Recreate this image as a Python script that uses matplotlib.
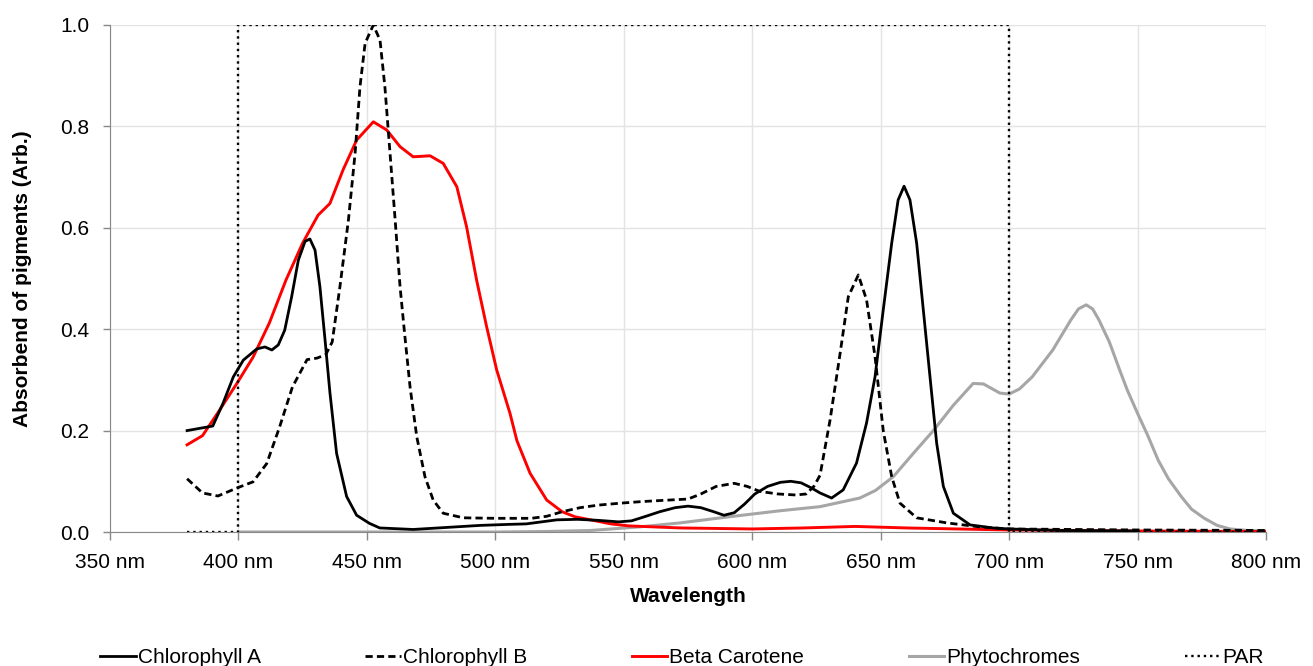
import matplotlib
matplotlib.use("Agg")
import matplotlib.pyplot as plt
import numpy as np

plt.rcParams['font.family'] = ['Liberation Sans Narrow', 'Liberation Sans', 'DejaVu Sans']

# values
chla_nm = [380, 390, 394, 398, 401.9, 407.1, 410.3, 413, 415.5, 418, 420.7, 423.3, 425.9, 427.8,
           429.8, 431.7, 433.7, 435.6, 438.2, 442.1, 446, 451, 455, 468, 481, 494, 505, 512,
           518, 524, 532, 540, 548, 553, 558, 564, 570, 575, 580, 585, 589, 593, 597, 601,
           606, 611, 615, 619, 623, 626.4, 630.9, 635.4, 640.6, 644.5, 647.8, 651, 654.3,
           656.8, 659.1, 661.4, 664, 666.6, 669.2, 671.8, 674.4, 678.3, 684.8, 693.8, 700,
           720, 750]
chla_abs = [0.2, 0.209, 0.254, 0.306, 0.339, 0.361, 0.365, 0.359, 0.369, 0.398, 0.464, 0.536,
            0.573, 0.578, 0.556, 0.484, 0.379, 0.275, 0.155, 0.07, 0.033, 0.017, 0.008, 0.005,
            0.009, 0.013, 0.015, 0.016, 0.02, 0.024, 0.025, 0.023, 0.02, 0.022, 0.03, 0.04,
            0.048, 0.051, 0.048, 0.04, 0.033, 0.038, 0.055, 0.075, 0.09, 0.098, 0.1, 0.097,
            0.087, 0.077, 0.067, 0.083, 0.136, 0.215, 0.306, 0.438, 0.57, 0.655, 0.682, 0.655,
            0.57, 0.438, 0.306, 0.175, 0.09, 0.037, 0.014, 0.008, 0.006, 0.003, 0.002]

chlb_nm = [380, 386, 392, 399.5, 405.7, 411, 416, 421, 426.7, 430.6, 434, 436.5, 439.5, 442.8,
           445.4, 447.3, 449.3, 452.5, 455.1, 457, 459, 461, 462.9, 464.8, 466.8, 469.4, 472.6,
           475.8, 479.7, 487.5, 500, 514, 520, 526, 533, 540, 549, 557, 564, 575, 580, 586,
           593, 598, 603, 610, 617, 621, 624, 626.4, 630.3, 634.2, 637.4, 641.3, 644.5, 647.8,
           651, 654.3, 657.5, 664, 675.7, 688.6, 700, 750, 800]
chlb_abs = [0.105, 0.077, 0.071, 0.087, 0.099, 0.135, 0.207, 0.286, 0.34, 0.343, 0.35, 0.375,
            0.484, 0.615, 0.747, 0.878, 0.964, 1.0, 0.97, 0.878, 0.747, 0.615, 0.484, 0.385,
            0.286, 0.188, 0.109, 0.063, 0.037, 0.028, 0.027, 0.027, 0.031, 0.04, 0.048, 0.053,
            0.057, 0.06, 0.062, 0.065, 0.075, 0.09, 0.096, 0.09, 0.08, 0.075, 0.073, 0.075,
            0.09, 0.112, 0.221, 0.352, 0.464, 0.507, 0.458, 0.346, 0.2, 0.109, 0.057, 0.028,
            0.018, 0.01, 0.006, 0.004, 0.003]

beta_nm = [380, 386, 392.6, 399.5, 405.7, 412, 418.5, 425, 431, 435.6, 440.7, 446, 452.5, 457.7,
           462.9, 468, 474.6, 479.7, 485, 488.8, 492.7, 496.6, 500.5, 505.7, 508.4, 513.5, 520,
           526, 531, 537, 545, 552, 572, 600, 620, 640, 660, 680, 700, 750, 800]
beta_abs = [0.172, 0.19, 0.24, 0.294, 0.345, 0.412, 0.497, 0.57, 0.625, 0.648, 0.714, 0.773,
            0.809, 0.793, 0.76, 0.74, 0.742, 0.727, 0.681, 0.602, 0.497, 0.405, 0.32, 0.234,
            0.18, 0.116, 0.063, 0.04, 0.03, 0.024, 0.016, 0.012, 0.008, 0.006, 0.008, 0.011,
            0.008, 0.006, 0.004, 0.002, 0.001]

phyto_nm = [400, 450, 500, 520, 537, 556, 572, 591, 611, 626.4, 641.9, 648, 654.9, 662.7,
            670.5, 678.3, 686, 690, 696.4, 700, 704, 709, 717, 724, 727, 730, 732.5, 735, 739,
            743, 746, 750, 754, 758, 762, 767, 771, 776, 781, 786, 793, 800]
phyto_abs = [0.0, 0.0, 0.0, 0.001, 0.003, 0.01, 0.018, 0.03, 0.042, 0.05, 0.067, 0.082, 0.109,
             0.155, 0.2, 0.25, 0.293, 0.292, 0.274, 0.272, 0.282, 0.306, 0.359, 0.418, 0.44,
             0.448, 0.44, 0.418, 0.375, 0.32, 0.28, 0.234, 0.19, 0.142, 0.105, 0.07, 0.045,
             0.027, 0.013, 0.006, 0.003, 0.002]

par_nm = [380, 400, 400, 700, 700, 800]
par_abs = [0, 0, 1, 1, 0, 0]

xticks = [350, 400, 450, 500, 550, 600, 650, 700, 750, 800]
yticks = [0.0, 0.2, 0.4, 0.6, 0.8, 1.0]

fig = plt.figure(figsize=(13.13, 6.66), dpi=100)
ax = fig.add_axes([0.0838, 0.2012, 0.8804, 0.7613])

ax.plot(par_nm, par_abs, ':', color='black', lw=1.7, label='PAR', zorder=5)
ax.plot(phyto_nm, phyto_abs, '-', color='#a6a6a6', lw=2.2, label='Phytochromes', zorder=2,
        solid_joinstyle='round')
ax.plot(beta_nm, beta_abs, '-', color='#ff0000', lw=2.1, label='Beta Carotene', zorder=3,
        solid_joinstyle='round')
ax.plot(chlb_nm, chlb_abs, '--', dashes=(2.6, 1.5), color='black', lw=2.0,
        label='Chlorophyll B', zorder=4)
ax.plot(chla_nm, chla_abs, '-', color='black', lw=2.0, label='Chlorophyll A', zorder=4,
        solid_joinstyle='round')

ax.set_xlim(350, 800)
ax.set_ylim(0, 1.0)
ax.set_xticks(xticks)
ax.set_xticklabels([f'{v} nm' for v in xticks])
ax.set_yticks(yticks)
ax.set_yticklabels([f'{v:.1f}' for v in yticks])
ax.tick_params(axis='x', labelsize=15, color='#888888', length=6, width=1, pad=9)
ax.tick_params(axis='y', labelsize=15, color='#888888', length=5, width=1, pad=10)
ax.grid(True, color='#e3e3e3', lw=1)
ax.set_axisbelow(True)
for s in ['top', 'right']:
    ax.spines[s].set_visible(False)
ax.spines['bottom'].set_color('#888888')
ax.spines['left'].set_color('#888888')
ax.set_xlabel('Wavelength', fontsize=15, fontweight='bold', labelpad=11)
ax.set_ylabel('Absorbend of pigments (Arb.)', fontsize=15, fontweight='bold', labelpad=20)

handles, labels = ax.get_legend_handles_labels()
order = [4, 3, 2, 1, 0]
fig.legend([handles[i] for i in order], [labels[i] for i in order],
           loc='lower left', bbox_to_anchor=(0.062, -0.03, 0.915, 0.05), mode='expand',
           ncol=5, frameon=False, fontsize=15, handlelength=1.7, handletextpad=0.1)

fig.savefig('out.png', dpi=100)
